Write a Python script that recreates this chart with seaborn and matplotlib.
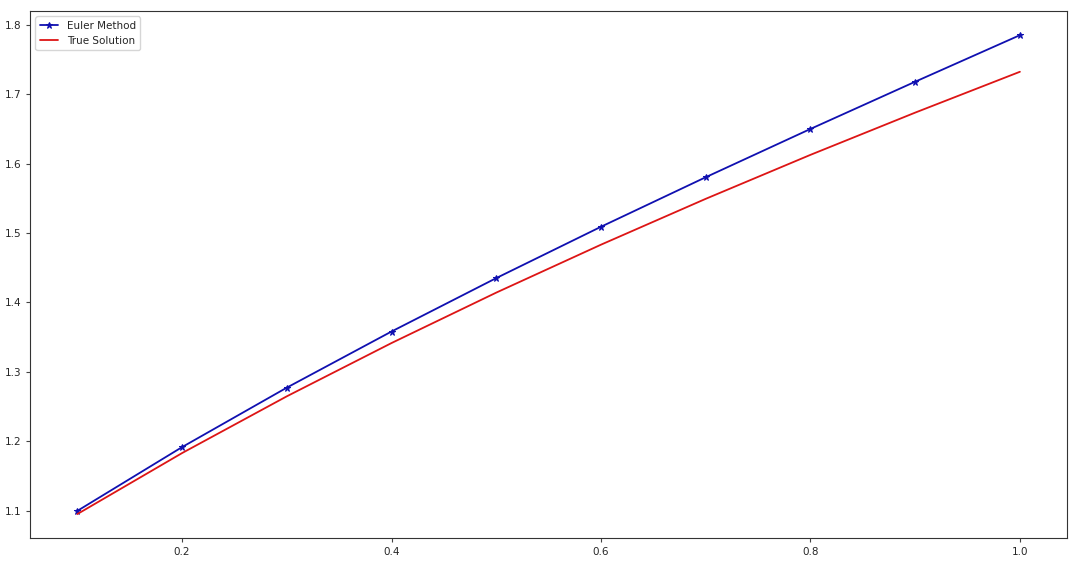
import matplotlib
matplotlib.use("Agg")
import matplotlib.pyplot as plt
import seaborn as sns
import pandas as pd

x_euler = [0.1, 0.2, 0.3, 0.4, 0.5, 0.6, 0.7, 0.8, 0.9, 1.0]
y_euler = [1.1000, 1.1918, 1.2774, 1.3582, 1.4351, 1.5090, 1.5803, 1.6498, 1.7178, 1.7848]
x_true = [0.1, 0.2, 0.3, 0.4, 0.5, 0.6, 0.7, 0.8, 0.9, 1.0]
y_true = [1.0954, 1.1832, 1.2649, 1.3416, 1.4142, 1.4832, 1.5492, 1.6125, 1.6733, 1.7321]

sns.set_style("ticks")
plt.rcParams['font.family'] = ['DejaVu Sans']

fig = plt.figure(figsize=(10.8, 5.61), dpi=100)
ax = fig.add_axes([0.028, 0.041, 0.96, 0.939])

sns.lineplot(x=x_euler, y=y_euler, ax=ax, color='#1010b0', marker='*', markersize=5,
             markeredgecolor='#1010b0', linewidth=1.3, label='Euler Method')
sns.lineplot(x=x_true, y=y_true, ax=ax, color='#dd1515', linewidth=1.3, label='True Solution')

ax.set_xticks([0.2, 0.4, 0.6, 0.8, 1.0])
ax.set_yticks([1.1, 1.2, 1.3, 1.4, 1.5, 1.6, 1.7, 1.8])
ax.tick_params(labelsize=7.5, length=3, color='#444444')
for s in ax.spines.values():
    s.set_color('#333333')
    s.set_linewidth(0.8)
leg = ax.legend(loc='upper left', fontsize=7.5, frameon=True, handlelength=1.8)
leg.get_frame().set_edgecolor('#cccccc')

fig.savefig("out.png", dpi=100)
